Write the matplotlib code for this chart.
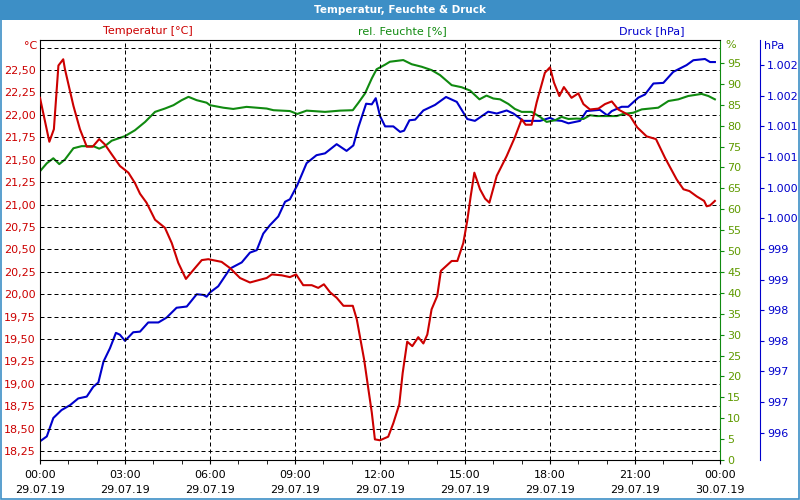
import matplotlib
matplotlib.use('Agg')
import matplotlib.pyplot as plt
from matplotlib.patches import Rectangle

# Temperatur [°C]
temp_h = [0, 0.33, 0.49, 0.65, 0.82, 0.88, 1.18, 1.41, 1.65, 1.86, 2.09, 2.29, 2.53, 2.82,
          3.12, 3.35, 3.53, 3.76, 4.06, 4.41, 4.65, 4.88, 5.15, 5.44, 5.71, 5.94,
          6.41, 6.71, 7.06, 7.41, 7.76, 8.0, 8.18, 8.53, 8.82, 9.04, 9.29, 9.59, 9.82,
          10.02, 10.24, 10.47, 10.71, 11.04, 11.18, 11.29, 11.44, 11.59, 11.71, 11.82,
          12.0, 12.29, 12.47, 12.68, 12.8, 12.96, 13.14, 13.35, 13.53, 13.67, 13.82,
          14.02, 14.15, 14.53, 14.73, 14.94, 15.08, 15.2, 15.33, 15.53, 15.71, 15.86,
          16.12, 16.47, 16.76, 17.0, 17.14, 17.35, 17.53, 17.82, 18.0,
          18.14, 18.33, 18.49, 18.76, 19.0, 19.18, 19.41, 19.71, 19.94, 20.18, 20.41,
          20.82, 21.08, 21.41, 21.74, 22.06, 22.47, 22.71, 22.92, 23.18, 23.44, 23.53,
          23.65, 23.82]
temp = [22.19, 21.70, 21.84, 22.55, 22.62, 22.51, 22.10, 21.84, 21.645, 21.645, 21.73,
        21.67, 21.56, 21.43, 21.355, 21.24, 21.12, 21.02, 20.83, 20.74, 20.57, 20.35,
        20.17, 20.28, 20.38, 20.39,
        20.36, 20.29, 20.18, 20.13, 20.16, 20.18, 20.22, 20.21, 20.19, 20.22, 20.10,
        20.10, 20.07, 20.11, 20.02, 19.96, 19.87, 19.87, 19.72, 19.53, 19.27, 18.94,
        18.68, 18.38,
        18.37, 18.41, 18.56, 18.77, 19.12, 19.47, 19.42, 19.52, 19.45, 19.55, 19.83,
        19.98, 20.26, 20.37, 20.37, 20.57, 20.82, 21.09, 21.355, 21.17, 21.065, 21.02,
        21.32, 21.54, 21.75, 21.95, 21.89, 21.89, 22.14, 22.47, 22.53,
        22.36, 22.21, 22.31, 22.19, 22.24, 22.12, 22.06, 22.07, 22.12, 22.15, 22.06,
        21.99, 21.86, 21.76, 21.73, 21.52, 21.28, 21.17, 21.15, 21.09, 21.04, 20.98,
        20.99, 21.04]

# rel. Feuchte [%]
hum_h = [0, 0.24, 0.47, 0.68, 0.88, 1.18, 1.47, 1.88, 2.09, 2.29, 2.53, 3.0, 3.35, 3.71,
         4.06, 4.41, 4.71, 5.0, 5.24, 5.53, 5.88,
         6.0, 6.47, 6.82, 7.29, 8.0, 8.24, 8.82, 9.08, 9.41, 10.06, 10.59, 11.04,
         11.24, 11.47, 11.71, 11.88,
         12.18, 12.35, 12.82, 13.12, 13.47, 13.82, 14.12, 14.53, 14.88, 15.18, 15.51,
         15.76, 16.0, 16.24, 16.53, 16.76, 17.0, 17.35, 17.65, 17.88,
         18.18, 18.41, 18.65, 18.94, 19.18, 19.41, 19.65, 20.35, 20.59, 20.94, 21.24,
         21.82, 22.18, 22.53, 22.88, 23.35, 23.59, 23.82]
hum = [69.1, 71.0, 72.2, 70.8, 71.9, 74.6, 75.1, 75.1, 74.5, 75.1, 76.4, 77.5, 78.9,
       80.9, 83.3, 84.1, 84.9, 86.1, 86.9, 86.1, 85.5,
       84.9, 84.3, 84.0, 84.5, 84.1, 83.7, 83.5, 82.8, 83.6, 83.3, 83.6, 83.7,
       85.5, 87.7, 91.3, 93.5,
       94.6, 95.3, 95.7, 94.7, 94.1, 93.3, 92.1, 89.7, 89.2, 88.4, 86.3,
       87.2, 86.5, 86.3, 85.2, 84.0, 83.3, 83.3, 82.1, 80.9,
       81.3, 82.1, 81.6, 81.7, 81.6, 82.5, 82.3, 82.3, 82.8, 83.1, 83.9,
       84.3, 85.9, 86.3, 87.1, 87.6, 87.1, 86.3]

# Druck [hPa]
pres_h = [0, 0.24, 0.47, 0.76, 1.06, 1.35, 1.65, 1.88, 2.06, 2.24, 2.47, 2.68, 2.82,
          3.0, 3.29, 3.53, 3.82, 4.18, 4.47, 4.82, 5.18, 5.53, 5.76, 5.88,
          6.0, 6.29, 6.71, 7.12, 7.41, 7.65, 7.88, 8.12, 8.41, 8.65, 8.82, 9.08, 9.41,
          9.76, 10.06, 10.47, 10.82, 11.06, 11.24, 11.51, 11.71, 11.85, 12.0,
          12.18, 12.47, 12.71, 12.85, 13.04, 13.24, 13.53, 13.94, 14.33, 14.71, 15.08,
          15.35, 15.82, 16.12, 16.47, 16.71, 17.06, 17.65, 18.0,
          18.18, 18.41, 18.65, 19.06, 19.29, 19.76, 20.02, 20.18, 20.53, 20.76, 21.12,
          21.35, 21.65, 22.0, 22.35, 22.82, 23.06, 23.47, 23.65, 23.82]
pres = [995.86, 995.94, 996.24, 996.37, 996.45, 996.56, 996.59, 996.75, 996.82,
        997.16, 997.38, 997.63, 997.60, 997.50, 997.64, 997.65, 997.80, 997.80,
        997.88, 998.04, 998.06, 998.26, 998.25, 998.22,
        998.29, 998.39, 998.68, 998.78, 998.94, 998.98, 999.25, 999.39, 999.53,
        999.77, 999.81, 1000.04, 1000.40, 1000.53, 1000.56, 1000.71, 1000.60,
        1000.69, 1000.99, 1001.37, 1001.36, 1001.46, 1001.17,
        1001.00, 1001.00, 1000.91, 1000.93, 1001.10, 1001.11, 1001.26, 1001.35,
        1001.48, 1001.40, 1001.12, 1001.09, 1001.24, 1001.21, 1001.26, 1001.21,
        1001.09, 1001.09, 1001.14,
        1001.10, 1001.09, 1001.05, 1001.09, 1001.25, 1001.27, 1001.18, 1001.25,
        1001.32, 1001.32, 1001.47, 1001.52, 1001.70, 1001.71, 1001.89, 1002.00,
        1002.08, 1002.10, 1002.05, 1002.05]

x_ticks = [0, 3, 6, 9, 12, 15, 18, 21, 24]
x_labels = ['00:00\n29.07.19', '03:00\n29.07.19', '06:00\n29.07.19', '09:00\n29.07.19',
            '12:00\n29.07.19', '15:00\n29.07.19', '18:00\n29.07.19', '21:00\n29.07.19',
            '00:00\n30.07.19']
temp_ticks = [18.25 + 0.25 * i for i in range(18)]
temp_labels = ['18,25', '18,50', '18,75', '19,00', '19,25', '19,50', '19,75', '20,00',
               '20,25', '20,50', '20,75', '21,00', '21,25', '21,50', '21,75', '22,00',
               '22,25', '22,50']
hum_ticks = list(range(0, 100, 5))
pres_ticks = [996 + 0.5 * i for i in range(13)]
pres_labels = ['996', '997', '997', '998', '998', '999', '999', '1.000', '1.000',
               '1.001', '1.001', '1.002', '1.002']

RED = '#cc0000'
GREEN = '#108a10'
GREEN_TXT = '#5f9a00'
BLUE = '#0000cc'
BAR = '#3d8fc6'

plt.rcParams['font.family'] = 'DejaVu Sans'
plt.rcParams['font.size'] = 8

fig = plt.figure(figsize=(8, 5), dpi=100)
fig.patch.set_facecolor('white')

# Titelleiste + Rahmen
fig.patches.append(Rectangle((0, 1 - 20 / 500), 1, 20 / 500, transform=fig.transFigure,
                             facecolor=BAR, edgecolor='none', zorder=0))
fig.patches.append(Rectangle((0.6 / 800, 0.6 / 500), 798.8 / 800, 498.8 / 500,
                             transform=fig.transFigure, facecolor='none',
                             edgecolor=BAR, linewidth=1.2, zorder=5))
fig.text(0.5, 1 - 10 / 500, 'Temperatur, Feuchte & Druck', color='white',
         fontweight='bold', fontsize=7.5, ha='center', va='center')

ax = fig.add_axes([40 / 800, 40 / 500, 680 / 800, 420 / 500])
ax_p = ax.twinx()
ax_h = ax.twinx()

# Druck
ax_p.plot(pres_h, pres, color=BLUE, lw=1.5)
ax_p.set_ylim(995.555, 1002.41)
ax_p.spines['right'].set_position(('axes', 720 / 680))
ax_p.spines['right'].set_color(BLUE)
for s in ['top', 'left', 'bottom']:
    ax_p.spines[s].set_visible(False)
ax_p.set_yticks(pres_ticks)
ax_p.set_yticklabels(pres_labels)
ax_p.tick_params(axis='y', colors=BLUE, length=3, pad=2, labelsize=8)

# Feuchte
ax_h.plot(hum_h, hum, color=GREEN, lw=1.5)
ax_h.set_ylim(0, 100.5)
ax_h.spines['right'].set_color(GREEN)
for s in ['top', 'left', 'bottom']:
    ax_h.spines[s].set_visible(False)
ax_h.set_yticks(hum_ticks)
ax_h.tick_params(axis='y', color=GREEN, labelcolor=GREEN_TXT, length=3, pad=2,
                 labelsize=8)

# Temperatur
ax.set_zorder(3)
ax.patch.set_visible(False)
ax_h.set_zorder(2)
ax_p.set_zorder(1)
ax_p.patch.set_facecolor('white')
ax.plot(temp_h, temp, color=RED, lw=1.5, zorder=3)
ax.set_ylim(18.15, 22.835)
ax.set_xlim(0, 24)
ax.set_yticks(temp_ticks + [22.75])
ax.set_yticklabels(temp_labels + [''])
ax.tick_params(axis='y', colors=RED, length=0, pad=3, labelsize=8)
ax.set_xticks(x_ticks)
ax.set_xticklabels(x_labels, linespacing=1.65)
ax.set_xticks(range(25), minor=True)
ax.tick_params(axis='x', which='both', length=3, direction='out', pad=4, labelsize=8)
ax.spines['right'].set_visible(False)
ax.grid(True, color='black', linestyle=(0, (4, 3)), linewidth=0.72)

# Kopfzeilen
fig.text(148 / 800, 1 - 31 / 500, 'Temperatur [°C]', color=RED, ha='center', va='center')
fig.text(402 / 800, 1 - 31 / 500, 'rel. Feuchte [%]', color=GREEN, ha='center', va='center')
fig.text(652 / 800, 1 - 31 / 500, 'Druck [hPa]', color=BLUE, ha='center', va='center')
fig.text(37 / 800, 1 - 46 / 500, '°C', color=RED, ha='right', va='center')
fig.text(725 / 800, 1 - 45 / 500, '%', color=GREEN_TXT, ha='left', va='center')
fig.text(764 / 800, 1 - 46 / 500, 'hPa', color=BLUE, ha='left', va='center')

fig.savefig('out.png', dpi=100)
